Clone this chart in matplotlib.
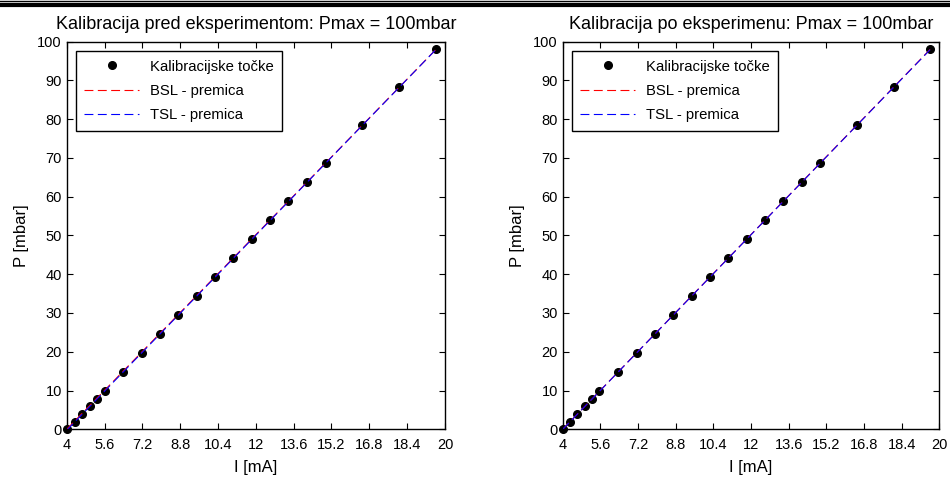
import numpy as np
import matplotlib
matplotlib.use("Agg")
from matplotlib import pyplot as plt
from matplotlib.lines import Line2D

plt.rcParams['font.family'] = ['Liberation Sans', 'DejaVu Sans']

# calibration points: pressure [mbar] and current [mA]
p_pred = [0, 1.96, 3.92, 5.88, 7.84, 9.8, 14.7, 19.6, 24.5, 29.4, 34.3, 39.2,
          44.1, 49.0, 53.9, 58.8, 63.7, 68.6, 78.4, 88.2, 98.0]
i_pred = [4.0, 4.35, 4.66, 4.98, 5.29, 5.62, 6.39, 7.17, 7.94, 8.72, 9.50, 10.27,
          11.04, 11.82, 12.60, 13.37, 14.16, 14.96, 16.51, 18.07, 19.62]

p_po = [0, 1.96, 3.92, 5.88, 7.84, 9.8, 14.7, 19.6, 24.5, 29.4, 34.3, 39.2,
        44.1, 49.0, 53.9, 58.8, 63.7, 68.6, 78.4, 88.2, 98.0]
i_po = [4.0, 4.32, 4.62, 4.93, 5.23, 5.56, 6.36, 7.14, 7.92, 8.70, 9.48, 10.26,
        11.03, 11.81, 12.59, 13.37, 14.15, 14.94, 16.50, 18.06, 19.61]

titles = ["Kalibracija pred eksperimentom: Pmax = 100mbar",
          "Kalibracija po eksperimenu: Pmax = 100mbar"]
xticks = [4, 5.6, 7.2, 8.8, 10.4, 12, 13.6, 15.2, 16.8, 18.4, 20]
xticklabels = ["4", "5.6", "7.2", "8.8", "10.4", "12", "13.6", "15.2", "16.8", "18.4", "20"]

fig = plt.figure(figsize=(9.5, 4.79), dpi=100)

# page header rules
fig.add_artist(Line2D([0, 1], [0.9985, 0.9985], color='black', lw=1.0))
fig.add_artist(Line2D([0, 1], [0.9895, 0.9895], color='black', lw=3.0))

positions = [[0.0702, 0.1038, 0.3982, 0.8092], [0.5923, 0.1038, 0.3964, 0.8092]]
datasets = [(i_pred, p_pred), (i_po, p_po)]

for pos, (I, P), title in zip(positions, datasets, titles):
    ax = fig.add_axes(pos)
    I = np.array(I)
    P = np.array(P)
    # BSL: line through endpoints, TSL: least squares
    k_bsl = (P[-1] - P[0]) / (I[-1] - I[0])
    n_bsl = P[0] - k_bsl * I[0]
    k_tsl, n_tsl = np.polyfit(I, P, 1)
    xl = np.array([I[0], I[-1]])

    ax.plot(I, P, 'o', color='black', markersize=5.5, label='Kalibracijske točke',
            zorder=2, clip_on=False)
    ax.plot(xl, k_bsl * xl + n_bsl, '--', color='red', lw=0.8, dashes=(8, 4),
            label='BSL - premica', zorder=3)
    ax.plot(xl, k_tsl * xl + n_tsl, '--', color='blue', lw=0.8, dashes=(8, 4),
            label='TSL - premica', zorder=4)

    ax.set_xlim(4, 20)
    ax.set_ylim(0, 100)
    ax.set_xticks(xticks)
    ax.set_xticklabels(xticklabels)
    ax.set_yticks(range(0, 101, 10))
    ax.tick_params(direction='in', top=True, right=True, labelsize=10.5, length=4, width=0.8)
    ax.tick_params(axis='x', pad=6)
    ax.set_xlabel("I [mA]", fontsize=12, labelpad=6)
    ax.set_ylabel("P [mbar]", fontsize=12, labelpad=6)
    ax.set_title(title, fontsize=13, pad=9)
    for s in ax.spines.values():
        s.set_linewidth(1.0)

    leg = ax.legend(loc='upper left', fontsize=10.7, fancybox=False, edgecolor='black',
                    framealpha=1, handlelength=3.7, handletextpad=0.75, borderpad=0.55,
                    labelspacing=0.7, borderaxespad=0,
                    bbox_to_anchor=(0.025, 0.975))
    leg.get_frame().set_linewidth(1.0)

plt.savefig("out.png", dpi=100)
